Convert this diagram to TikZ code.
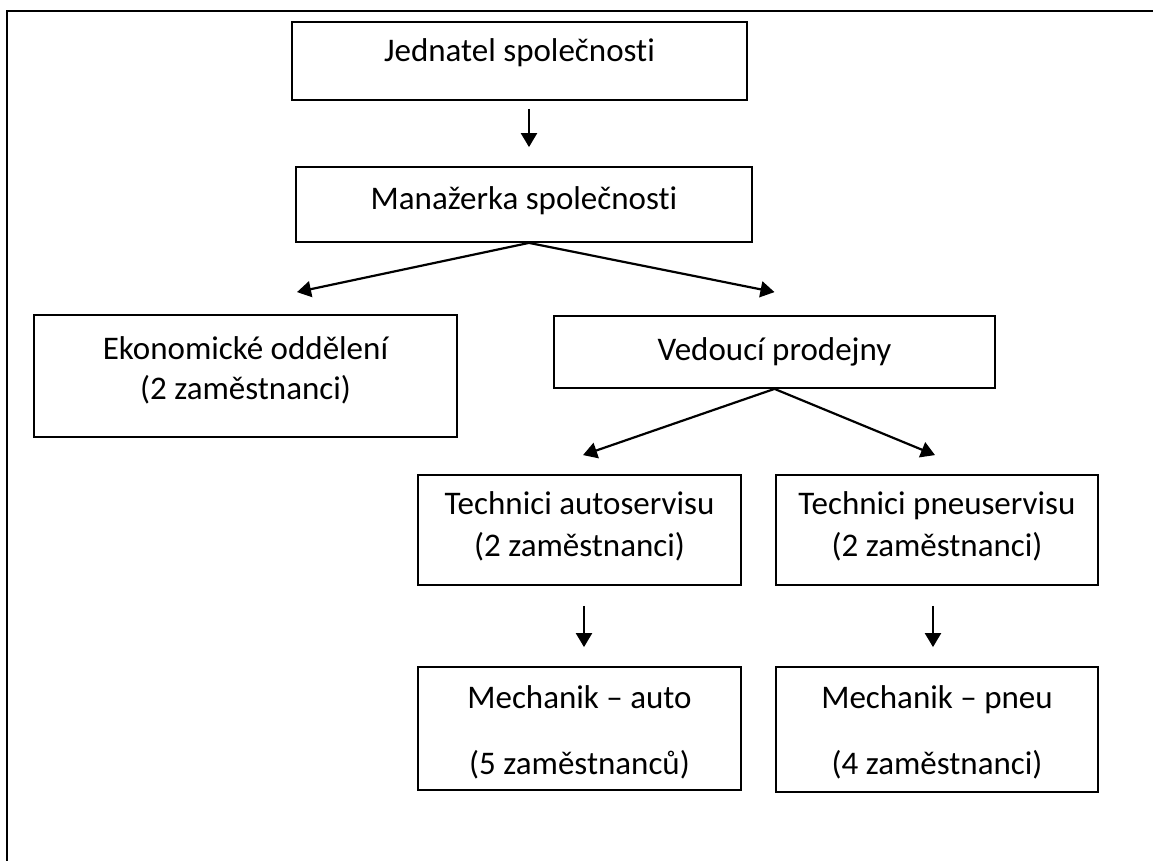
\documentclass[tikz,border=0pt]{standalone}
\usepackage{fontspec}
\setmainfont{Carlito}[Ligatures=NoCommon]
\usetikzlibrary{arrows.meta,positioning}

\begin{document}
\begin{tikzpicture}[x=0.5pt,y=-0.5pt,
    box/.style={
      draw,
      line width=0.9pt,
      inner sep=0pt
    },
    txt/.style={
      align=center,
      inner sep=0pt,
      font=\fontsize{16.5}{20.5}\selectfont
    },
    arrow/.style={
      -{Triangle[length=7pt,width=8pt]},
      line width=1.1pt
    }]

    \useasboundingbox (0,0) rectangle (1153,861);

    % Outer frame (only top and left edges visible)
    \draw[line width=1pt] (1153,11) -- (7,11) -- (7,861);

    % Boxes
    \node[box,minimum width=227.5pt,minimum height=39pt] (jed) at (519.5,61) {};
    \node[box,minimum width=228pt,minimum height=37.5pt] (man) at (524,204.5) {};
    \node[box,minimum width=211.5pt,minimum height=61pt] (eko) at (245.5,376) {};
    \node[box,minimum width=220.5pt,minimum height=36pt] (ved) at (774.5,352) {};
    \node[box,minimum width=161.5pt,minimum height=55pt] (tauto) at (579.5,530) {};
    \node[box,minimum width=161pt,minimum height=55pt] (tpneu) at (937,530) {};
    \node[box,minimum width=161.5pt,minimum height=61.5pt] (mauto) at (579.5,728.5) {};
    \node[box,minimum width=161pt,minimum height=62.5pt] (mpneu) at (937,729.5) {};

    % Texts, hung from the top edge of each box
    \node[txt,below=8.5pt of jed.north] (jedT) {Jednatel společnosti};
    \node[txt,below=10pt of man.north] (manT) {Manažerka společnosti};
    \node[txt,below=11pt of eko.north] (ekoT) {Ekonomické oddělení\\[-0.5pt](2 zaměstnanci)};
    \node[txt,below=11pt of ved.north] (vedT) {Vedoucí prodejny};
    \node[txt,below=8.5pt of tauto.north] (tautoT) {Technici autoservisu\\[0.5pt](2 zaměstnanci)};
    \node[txt,below=8.5pt of tpneu.north] (tpneuT) {Technici pneuservisu\\[0.5pt](2 zaměstnanci)};
    \node[txt,below=9.5pt of mauto.north] (mautoT) {Mechanik – auto\\[12.5pt](5 zaměstnanců)};
    \node[txt,below=9.5pt of mpneu.north] (mpneuT) {Mechanik – pneu\\[12.5pt](4 zaměstnanci)};

    % Arrows
    \draw[arrow] ([xshift=4.75pt,yshift=-4pt]jed.south) -- ([xshift=2.5pt,yshift=9.5pt]man.north);
    \draw[arrow] ([xshift=2.5pt]man.south) -- ([xshift=25.75pt,yshift=11pt]eko.north);
    \draw[arrow] ([xshift=2.5pt]man.south) -- ([yshift=11.5pt]ved.north);
    \draw[arrow] (ved.south) -- ([xshift=1.75pt,yshift=9.5pt]tauto.north);
    \draw[arrow] (ved.south) -- ([xshift=-1pt,yshift=9.5pt]tpneu.north);
    \draw[arrow] ([xshift=2.25pt,yshift=-10pt]tauto.south) -- ([xshift=2.25pt,yshift=9.5pt]mauto.north);
    \draw[arrow] ([xshift=-2pt,yshift=-10pt]tpneu.south) -- ([xshift=-2pt,yshift=9.5pt]mpneu.north);
\end{tikzpicture}
\end{document}
